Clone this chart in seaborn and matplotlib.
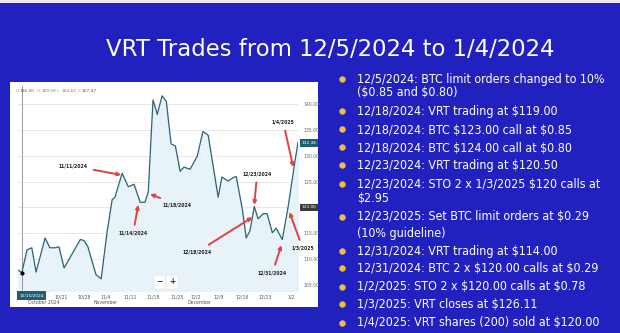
import matplotlib
matplotlib.use('Agg')
import matplotlib.pyplot as plt
import seaborn as sns
import pandas as pd
from matplotlib.patches import Rectangle
from matplotlib.lines import Line2D
from matplotlib.transforms import blended_transform_factory

# ---------------- data ----------------
day = [0.0, 0.8, 1.9, 2.9, 3.8, 5.7, 6.7, 7.8, 8.6, 9.7, 13.1, 13.9, 14.7, 16.4, 17.5,
       18.7, 19.8, 20.4, 21.9, 23.2, 24.4, 25.7, 26.7, 27.4, 28.4, 29.3, 30.3, 31.2,
       32.2, 33.1, 34.1, 34.9, 36.2, 37.7, 38.9, 40.0, 42.1, 42.9, 44.2, 45.3, 45.9,
       47.2, 48.0, 48.8, 49.7, 50.5, 51.6, 52.4, 53.5, 54.3, 55.6, 56.8, 58.1, 58.9]
price = [107.9, 107.4, 111.8, 112.2, 107.5, 114.1, 112.2, 112.2, 112.4, 108.3, 113.8,
         113.6, 112.4, 107.0, 106.2, 115.0, 121.5, 122.0, 126.6, 124.0, 124.5, 121.0,
         121.0, 123.0, 140.8, 138.0, 141.6, 140.5, 132.3, 131.9, 127.0, 127.8, 127.4,
         129.9, 134.7, 134.0, 122.0, 125.9, 125.1, 125.8, 126.0, 119.6, 114.1, 115.5,
         120.2, 117.8, 118.8, 118.8, 115.1, 116.0, 113.8, 120.0, 128.0, 132.6]

tick_pos = [9.1, 13.9, 18.5, 23.6, 28.4, 33.5, 37.3, 42.1, 47.2, 52.0, 57.5]
tick_labels = ['10/21', '10/28', '11/4', '11/11', '11/18', '11/25', '12/2', '12/9',
               '12/16', '12/23', '1/2']
month_pos = [5.5, 18.5, 38.1]
month_labels = ['October 2024', 'November', 'December']
y_ticks = [105, 110, 115, 120, 125, 130, 135, 140]

ohlc_keys = ['O', 'H', 'L', 'C']
ohlc_vals = ['106.50', '109.09', '104.62', '107.47']

ann_labels = ['11/11/2024', '11/18/2024', '11/14/2024', '12/23/2024', '1/4/2025',
              '12/18/2024', '12/31/2024', '1/3/2025']
ann_text_x = [11.6, 33.5, 24.2, 50.3, 55.8, 37.7, 53.5, 59.9]
ann_text_y = [128.0, 120.5, 115.0, 126.5, 136.5, 111.4, 107.3, 112.1]
ann_tip_x = [21.7, 27.8, 25.3, 49.7, 57.9, 49.3, 55.4, 57.1]
ann_tip_y = [126.3, 122.6, 120.5, 120.5, 127.8, 118.1, 112.7, 119.1]

last_tag = 132.46
level_tag = 120.00
cross_label = '10/15/2024'

title = 'VRT Trades from 12/5/2024 to 1/4/2024'
bullets = [
    ['12/5/2024: BTC limit orders changed to 10%', '($0.85 and $0.80)'],
    ['12/18/2024: VRT trading at $119.00'],
    ['12/18/2024: BTC $123.00 call at $0.85'],
    ['12/18/2024: BTC $124.00 call at $0.80'],
    ['12/23/2024: VRT trading at $120.50'],
    ['12/23/2024: STO 2 x 1/3/2025 $120 calls at', '$2.95'],
    ['12/23/2025: Set BTC limit orders at $0.29', '(10% guideline)'],
    ['12/31/2024: VRT trading at $114.00'],
    ['12/31/2024: BTC 2 x $120.00 calls at $0.29'],
    ['1/2/2025: STO 2 x $120.00 calls at $0.78'],
    ['1/3/2025: VRT closes at $126.11'],
    ['1/4/2025: VRT shares (200) sold at $120.00'],
]

# ---------------- style ----------------
BLUE = '#2121bf'
LINE = '#2f6473'
FILL = '#e7f3f9'
RED = '#e0433f'
TEAL = '#1e5f72'
GOLD = '#f0c038'

sns.set_theme(style='white')
plt.rcParams['font.family'] = ['DejaVu Sans']
plt.rcParams['text.parse_math'] = False

W, H = 620, 333
fig = plt.figure(figsize=(6.2, 3.33), dpi=100)
fig.patch.set_facecolor('#e9e9ee')
fig.patches.append(Rectangle((0, 0), 1, (H - 3) / H, transform=fig.transFigure,
                             facecolor=BLUE, edgecolor='none', zorder=-10))
fig.patches.append(Rectangle((10 / W, (H - 307) / H), 308 / W, 225 / H,
                             transform=fig.transFigure, facecolor='white',
                             edgecolor='none', zorder=-5))

ax = fig.add_axes([18 / W, (H - 291) / H, 280 / W, 205 / H])
ax.set_facecolor('white')
df = pd.DataFrame({'day': day, 'price': price})
ymin, ymax = 103.84, 143.5
ax.fill_between(df['day'], df['price'], ymin, color=FILL, zorder=1)
sns.lineplot(data=df, x='day', y='price', ax=ax, color=LINE, lw=0.9, zorder=3)
ax.set_xlim(0, 58.9)
ax.set_ylim(ymin, ymax)
ax.set_xlabel('')
ax.set_ylabel('')
for s in ax.spines.values():
    s.set_visible(False)

ax.yaxis.tick_right()
ax.set_yticks(y_ticks, ['' if v == level_tag else f'{v:.2f}' for v in y_ticks])
ax.tick_params(axis='y', length=0, pad=4, labelsize=3.3, labelcolor='#666666')
ax.grid(axis='y', color='#e3e3e3', lw=0.6, zorder=0)
ax.set_xticks(tick_pos, tick_labels)
ax.tick_params(axis='x', length=0, pad=2.5, labelsize=3.3, labelcolor='#555555')

bt = blended_transform_factory(ax.transData, ax.transAxes)
for p, m in zip(month_pos, month_labels):
    ax.text(p, -0.055, m, transform=bt, fontsize=3.3, color='#555555',
            ha='center', va='center')

# crosshair
ax.axvline(day[1], color='#8a8a8a', lw=0.6, zorder=2)
ax.plot(day[1], price[1], 'o', color='black', ms=2, zorder=4)
ax.text(2.9, -0.022, cross_label, transform=bt, fontsize=3.1, color='white',
        ha='center', va='center', zorder=6,
        bbox=dict(boxstyle='square,pad=0.5', fc=TEAL, ec='none'))

# right tags
rt = blended_transform_factory(ax.transAxes, ax.transData)
ax.text(1.012, last_tag, f'{last_tag:.2f}', transform=rt, fontsize=3.1, color='white',
        ha='left', va='center', bbox=dict(boxstyle='square,pad=0.4', fc=TEAL, ec='none'))
ax.text(1.012, level_tag, f'{level_tag:.2f}', transform=rt, fontsize=3.1, color='white',
        ha='left', va='center', bbox=dict(boxstyle='square,pad=0.4', fc='#3a3a3a', ec='none'))

# zoom buttons
for xx, s in [(0.505, '\u2212'), (0.55, '+')]:
    ax.text(xx, 0.045, s, transform=ax.transAxes, fontsize=5.5, color='#333333',
            ha='center', va='center', fontweight='bold', zorder=6,
            bbox=dict(boxstyle='square,pad=0.35', fc='white', ec='#dddddd', lw=0.3))

# annotations
for lab, tx, ty, px, py in zip(ann_labels, ann_text_x, ann_text_y, ann_tip_x, ann_tip_y):
    ax.annotate(lab, xy=(px, py), xytext=(tx, ty), fontsize=3.3, fontweight='bold',
                color='#222222', ha='center', va='center', annotation_clip=False,
                zorder=7,
                arrowprops=dict(arrowstyle='-|>', color=RED, lw=1.4,
                                mutation_scale=5, shrinkA=2, shrinkB=0))

# OHLC legend
ohlc_x = [16, 37, 57, 78]
val_colors = ['#555555', '#3a9a6a', '#d05050', '#555555']
for x0, k, v, c in zip(ohlc_x, ohlc_keys, ohlc_vals, val_colors):
    fig.text(x0 / W, (H - 91) / H, k, fontsize=3.1, color='#999999', va='center')
    fig.text((x0 + 4) / W, (H - 91) / H, v, fontsize=3.1, color=c, va='center')

# title
fig.text(330 / W, (H - 50) / H, title, fontsize=16.4, color='white',
         ha='center', va='center')

# bullets
line_y = [[79, 93], [112], [130], [148], [165], [184, 198], [217, 233], [251], [268],
          [287], [304], [323]]
for lines, ys in zip(bullets, line_y):
    fig.add_artist(Line2D([342 / W], [(H - ys[0] + 0.5) / H], marker='o', ms=3.6,
                          color=GOLD, lw=0, transform=fig.transFigure))
    for t, yy in zip(lines, ys):
        fig.text(357 / W, (H - yy) / H, t, fontsize=8.9, color='white',
                 va='center', fontstretch='condensed')

fig.savefig('out.png', dpi=100, facecolor=fig.get_facecolor())
